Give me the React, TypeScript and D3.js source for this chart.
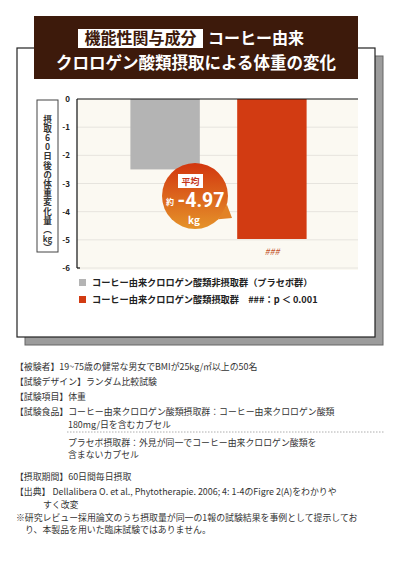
import React from 'react';
import * as d3 from 'd3';

const categories = ['placebo', 'cga'];
const values = [-2.5, -4.97];
const barColors = ['#b4b4b4', '#d23b12'];
const yTicks = [0, -1, -2, -3, -4, -5, -6];
const legendLabels = [
  'コーヒー由来クロロゲン酸類非摂取群（プラセボ群）',
  'コーヒー由来クロロゲン酸類摂取群　###：p ＜ 0.001',
];
const yLabelMain = '摂取60日後の体重変化量（';
const yLabelUnit = 'kg';
const yLabelEnd = '）';
const notes = [
  { x: 15, y: 370, t: '【被験者】19~75歳の健常な男女でBMIが25kg/㎡以上の50名' },
  { x: 15, y: 385, t: '【試験デザイン】ランダム比較試験' },
  { x: 15, y: 400, t: '【試験項目】体重' },
  { x: 15, y: 415, t: '【試験食品】コーヒー由来クロロゲン酸類摂取群：コーヒー由来クロロゲン酸類' },
  { x: 68, y: 427.5, t: '180mg/日を含むカプセル' },
  { x: 68, y: 445.5, t: 'プラセボ摂取群：外見が同一でコーヒー由来クロロゲン酸類を' },
  { x: 68, y: 457.5, t: '含まないカプセル' },
  { x: 15, y: 480, t: '【摂取期間】60日間毎日摂取' },
  { x: 15, y: 495, t: '【出典】 Dellalibera O. et al., Phytotherapie. 2006; 4: 1-4のFigre 2(A)をわかりや' },
  { x: 43, y: 507.5, t: 'すく改変' },
  { x: 16, y: 520.5, t: '※研究レビュー採用論文のうち摂取量が同一の1報の試験結果を事例として提示してお' },
  { x: 25, y: 532.5, t: 'り、本製品を用いた臨床試験ではありません。' },
];

const font = "'Noto Sans CJK JP', 'Noto Sans', sans-serif";

export default function App() {
  const x = d3.scaleBand().domain(categories).range([77, 360]).paddingInner(0.35).paddingOuter(0.5);
  const y = d3.scaleLinear().domain([0, -6]).range([99, 268]);
  const bubbleX = 195;
  const bubbleY = 196;
  const r = 33;
  const a1 = (15 * Math.PI) / 180;
  const a2 = (45 * Math.PI) / 180;
  const bubblePath = `M${bubbleX + r * Math.cos(a1)},${bubbleY + r * Math.sin(a1)} L${bubbleX + r + 4},${bubbleY + 22} L${bubbleX + r * Math.cos(a2)},${bubbleY + r * Math.sin(a2)} Z`;

  return (
    <svg width={400} height={570} style={{ position: 'absolute', left: 0, top: 0 }} fontFamily={font}>
      <defs>
        <linearGradient id="bub" x1="0" y1="0" x2="0" y2="1">
          <stop offset="0%" stopColor="#d2360f" />
          <stop offset="100%" stopColor="#e5932a" />
        </linearGradient>
      </defs>
      <rect width={400} height={570} fill="#fff" />
      {/* card with shadow */}
      <rect x={25} y={56} width={358} height={289} fill="#9c9c9c" stroke="#666" strokeWidth={1} />
      <rect x={17} y={48} width={358} height={289} fill="#fff" stroke="#222" strokeWidth={1.2} />
      {/* title */}
      <rect x={34} y={16} width={324} height={63} fill="#3d1a0b" />
      <rect x={78} y={29} width={125} height={19} fill="#fff" />
      <text x={140.5} y={44} textAnchor="middle" fontSize={16} fontWeight="bold" fill="#3d1a0b">機能性関与成分</text>
      <text x={208} y={44} fontSize={16} fontWeight="bold" fill="#fff">コーヒー由来</text>
      <text x={196} y={69} textAnchor="middle" fontSize={16.5} fontWeight="bold" fill="#fff">クロロゲン酸類摂取による体重の変化</text>
      {/* y label box */}
      <rect x={37} y={100} width={21} height={152} fill="#fff" stroke="#444" strokeWidth={1} />
      <text x={47.5} y={115} fontSize={8.6} fontWeight="bold" fill="#333" letterSpacing={0.6}
        style={{ writingMode: 'vertical-rl', textOrientation: 'upright' }}>
        {yLabelMain}
      </text>
      <text x={47.5} y={242} textAnchor="middle" fontSize={8} fontWeight="bold" fill="#333">{yLabelUnit}</text>
      <text x={47.5} y={243} fontSize={8.6} fontWeight="bold" fill="#333"
        style={{ writingMode: 'vertical-rl', textOrientation: 'upright' }}>
        {yLabelEnd}
      </text>
      {/* plot */}
      <rect x={77} y={y(0)} width={281} height={y(-6) - y(0) + 2} fill="#fbf9f2" />
      {yTicks.slice(1).map((t) => (
        <line key={t} x1={77} x2={358} y1={y(t)} y2={y(t)} stroke="#e6e4de" strokeWidth={1} />
      ))}
      {categories.map((c, i) => (
        <rect key={c} x={x(c)} y={y(0)} width={x.bandwidth()} height={y(values[i]) - y(0)} fill={barColors[i]} />
      ))}
      <line x1={77} x2={358} y1={y(0)} y2={y(0)} stroke="#111" strokeWidth={1.2} />
      <line x1={77} x2={77} y1={y(0)} y2={y(-6)} stroke="#111" strokeWidth={1.2} />
      <line x1={77} x2={80} y1={y(-6)} y2={y(-6)} stroke="#111" strokeWidth={1.2} />
      {yTicks.map((t) => (
        <text key={t} x={70} y={y(t) + 3} textAnchor="end" fontSize={8} fontWeight="bold" fill="#222">
          {t === 0 ? '0' : '-' + Math.abs(t)}
        </text>
      ))}
      <text x={(x('cga') as number) + x.bandwidth() / 2} y={y(values[1]) + 16} textAnchor="middle" fontSize={9} fill="#c4532c" fontStyle="italic">###</text>
      {/* bubble */}
      <circle cx={bubbleX} cy={bubbleY} r={r} fill="url(#bub)" />
      <path d={bubblePath} fill="#e28226" />
      <rect x={178} y={174} width={25} height={14} fill="#fff" />
      <text x={190.5} y={185} textAnchor="middle" fontSize={9} fontWeight="bold" fill="#c4361a">平均</text>
      <text x={170} y={205} textAnchor="middle" fontSize={8} fontWeight="bold" fill="#fff">約</text>
      <text x={201} y={207} textAnchor="middle" fontSize={19.5} fontWeight="bold" fill="#fff" fontFamily="'Liberation Sans Narrow', 'Roboto', sans-serif">-4.97</text>
      <text x={194} y={224} textAnchor="middle" fontSize={10} fontWeight="bold" fill="#fff">kg</text>
      {/* legend */}
      {legendLabels.map((l, i) => (
        <g key={l}>
          <rect x={79} y={279 + i * 17} width={7} height={7} fill={barColors[i]} />
          <text x={92} y={286 + i * 17} fontSize={9.2} fontWeight="bold" fill="#222">{l}</text>
        </g>
      ))}
      {/* notes */}
      <line x1={67} x2={385} y1={432} y2={432} stroke="#999" strokeWidth={0.8} strokeDasharray="1.5,1.5" />
      {notes.map((n, i) => (
        <text key={i} x={n.x} y={n.y} fontSize={8.9} fill="#333">{n.t}</text>
      ))}
    </svg>
  );
}
